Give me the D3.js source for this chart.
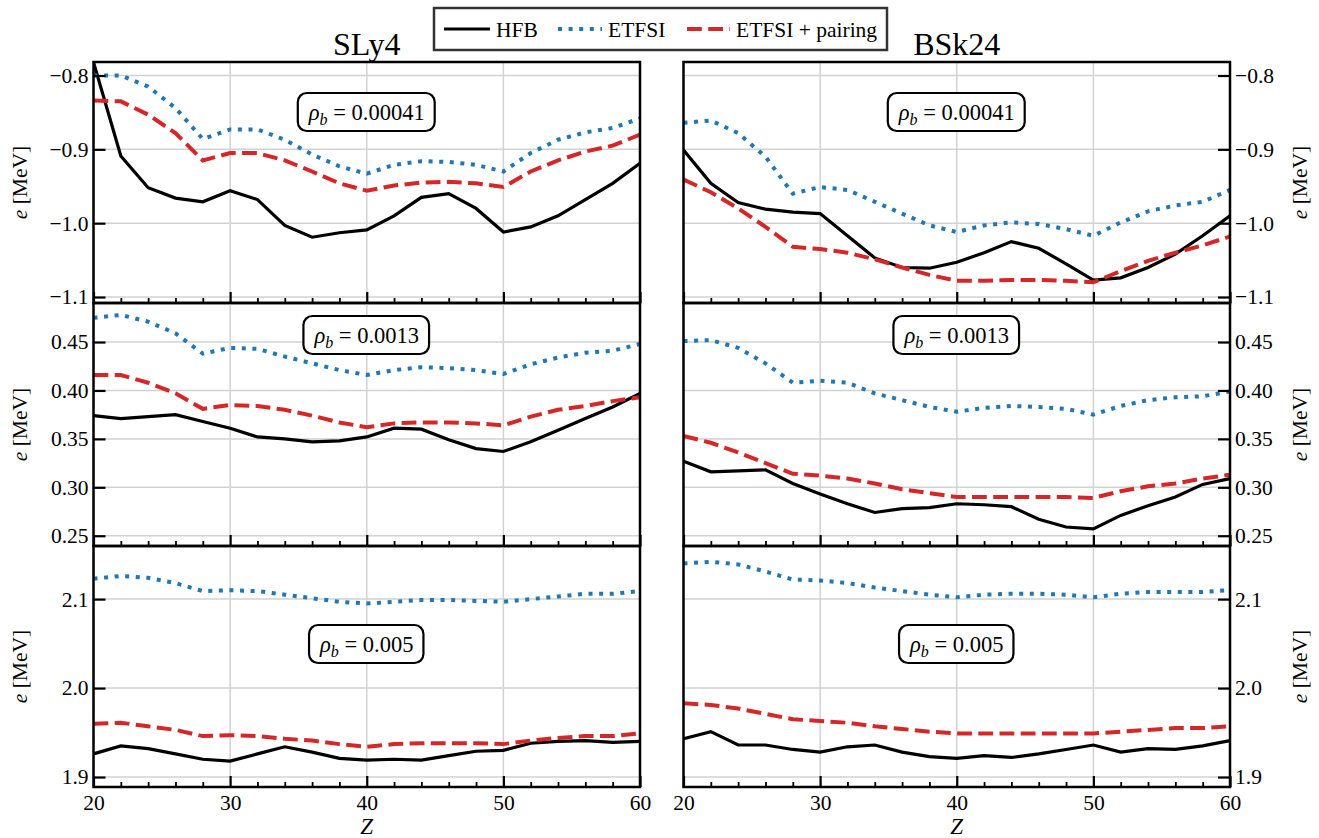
<!DOCTYPE html>
<html>
<head>
<meta charset="utf-8">
<script src="https://cdn.jsdelivr.net/npm/d3@7/dist/d3.min.js"></script>
<style>
  html, body { margin: 0; padding: 0; background: #fff; }
  svg { display: block; font-family: "Liberation Serif", "DejaVu Serif", serif; }
</style>
</head>
<body>
<svg id="chart" width="1319" height="838"></svg>
<script>
// Proton number grid
const Z = [20, 22, 24, 26, 28, 30, 32, 34, 36, 38, 40, 42, 44, 46, 48, 50, 52, 54, 56, 58, 60];

// Functionals (columns) and background densities (rows)
const functionals = ["SLy4", "BSk24"];
const densities = ["0.00041", "0.0013", "0.005"];
const seriesNames = ["HFB", "ETFSI", "ETFSI + pairing"];

// SLy4, rho_b = 0.00041
const sly4_r1_hfb   = [-0.782, -0.909, -0.952, -0.966, -0.971, -0.956, -0.968, -1.003, -1.019, -1.013, -1.009, -0.990, -0.965, -0.960, -0.980, -1.012, -1.005, -0.990, -0.968, -0.946, -0.919];
const sly4_r1_etfsi = [-0.800, -0.800, -0.815, -0.844, -0.886, -0.873, -0.873, -0.887, -0.907, -0.923, -0.933, -0.921, -0.916, -0.917, -0.921, -0.930, -0.905, -0.887, -0.877, -0.871, -0.858];
const sly4_r1_pair  = [-0.834, -0.835, -0.853, -0.878, -0.915, -0.905, -0.905, -0.915, -0.930, -0.946, -0.956, -0.949, -0.945, -0.944, -0.946, -0.951, -0.930, -0.915, -0.903, -0.895, -0.880];
// BSk24, rho_b = 0.00041
const bsk24_r1_hfb   = [-0.901, -0.946, -0.972, -0.981, -0.985, -0.987, -1.017, -1.047, -1.060, -1.061, -1.053, -1.040, -1.025, -1.034, -1.055, -1.077, -1.074, -1.060, -1.042, -1.017, -0.990];
const bsk24_r1_etfsi = [-0.864, -0.861, -0.878, -0.910, -0.960, -0.951, -0.955, -0.971, -0.987, -1.003, -1.012, -1.003, -0.999, -1.001, -1.008, -1.017, -0.999, -0.984, -0.976, -0.971, -0.955];
const bsk24_r1_pair  = [-0.941, -0.958, -0.980, -1.005, -1.032, -1.035, -1.040, -1.049, -1.060, -1.070, -1.078, -1.078, -1.077, -1.077, -1.078, -1.080, -1.065, -1.051, -1.040, -1.030, -1.018];

// SLy4, rho_b = 0.0013
const sly4_r2_hfb   = [0.374, 0.371, 0.373, 0.375, 0.368, 0.361, 0.352, 0.350, 0.347, 0.348, 0.352, 0.361, 0.360, 0.349, 0.340, 0.337, 0.347, 0.359, 0.371, 0.383, 0.397];
const sly4_r2_etfsi = [0.475, 0.478, 0.471, 0.459, 0.438, 0.444, 0.443, 0.435, 0.428, 0.421, 0.416, 0.421, 0.424, 0.423, 0.421, 0.417, 0.427, 0.434, 0.439, 0.441, 0.448];
const sly4_r2_pair  = [0.416, 0.416, 0.408, 0.397, 0.381, 0.385, 0.384, 0.380, 0.374, 0.367, 0.362, 0.366, 0.367, 0.367, 0.366, 0.364, 0.373, 0.380, 0.384, 0.389, 0.393];
// BSk24, rho_b = 0.0013
const bsk24_r2_hfb   = [0.327, 0.316, 0.317, 0.318, 0.304, 0.293, 0.283, 0.274, 0.278, 0.279, 0.283, 0.282, 0.280, 0.267, 0.259, 0.257, 0.271, 0.281, 0.290, 0.303, 0.309];
const bsk24_r2_etfsi = [0.451, 0.452, 0.444, 0.428, 0.408, 0.410, 0.408, 0.397, 0.390, 0.383, 0.378, 0.382, 0.384, 0.383, 0.381, 0.375, 0.384, 0.390, 0.393, 0.394, 0.399];
const bsk24_r2_pair  = [0.353, 0.346, 0.336, 0.325, 0.314, 0.312, 0.309, 0.304, 0.298, 0.294, 0.290, 0.290, 0.290, 0.290, 0.290, 0.289, 0.296, 0.301, 0.304, 0.309, 0.313];

// SLy4, rho_b = 0.005
const sly4_r3_hfb   = [1.926, 1.935, 1.932, 1.926, 1.920, 1.918, 1.926, 1.934, 1.928, 1.921, 1.919, 1.920, 1.919, 1.924, 1.929, 1.930, 1.938, 1.940, 1.941, 1.939, 1.940];
const sly4_r3_etfsi = [2.123, 2.126, 2.124, 2.118, 2.109, 2.110, 2.109, 2.105, 2.101, 2.097, 2.095, 2.097, 2.099, 2.099, 2.098, 2.097, 2.100, 2.103, 2.106, 2.106, 2.109];
const sly4_r3_pair  = [1.960, 1.961, 1.957, 1.953, 1.946, 1.947, 1.946, 1.943, 1.941, 1.937, 1.934, 1.937, 1.938, 1.938, 1.938, 1.937, 1.941, 1.944, 1.946, 1.946, 1.949];
// BSk24, rho_b = 0.005
const bsk24_r3_hfb   = [1.943, 1.951, 1.936, 1.936, 1.931, 1.928, 1.934, 1.936, 1.928, 1.923, 1.921, 1.924, 1.922, 1.926, 1.931, 1.936, 1.928, 1.932, 1.931, 1.935, 1.941];
const bsk24_r3_etfsi = [2.140, 2.142, 2.139, 2.131, 2.122, 2.121, 2.118, 2.113, 2.109, 2.105, 2.102, 2.105, 2.106, 2.106, 2.105, 2.102, 2.106, 2.108, 2.108, 2.108, 2.110];
const bsk24_r3_pair  = [1.983, 1.981, 1.977, 1.971, 1.965, 1.963, 1.961, 1.957, 1.954, 1.951, 1.949, 1.949, 1.949, 1.949, 1.949, 1.949, 1.951, 1.953, 1.955, 1.955, 1.957];

// Axis ticks
const xTicks = [20, 30, 40, 50, 60];
const xMinorTicks = [22, 24, 26, 28, 32, 34, 36, 38, 42, 44, 46, 48, 52, 54, 56, 58];
const yTicksRow1 = [-1.1, -1.0, -0.9, -0.8];
const yTicksRow2 = [0.25, 0.30, 0.35, 0.40, 0.45];
const yTicksRow3 = [1.9, 2.0, 2.1];
const yDigits = [1, 2, 1];
const yLimits = [[-1.1081, -0.7817], [0.2394, 0.4903], [1.8888, 2.1597]];

// Panel table assembled from the arrays above
const panelData = [
  [[sly4_r1_hfb, sly4_r1_etfsi, sly4_r1_pair], [bsk24_r1_hfb, bsk24_r1_etfsi, bsk24_r1_pair]],
  [[sly4_r2_hfb, sly4_r2_etfsi, sly4_r2_pair], [bsk24_r2_hfb, bsk24_r2_etfsi, bsk24_r2_pair]],
  [[sly4_r3_hfb, sly4_r3_etfsi, sly4_r3_pair], [bsk24_r3_hfb, bsk24_r3_etfsi, bsk24_r3_pair]]
];
const yTickSets = [yTicksRow1, yTicksRow2, yTicksRow3];

// Layout
const colX = [[93.5, 640], [683.5, 1230]];
const rowY = [[62, 303], [303, 546], [546, 787]];
const annotY = [112, 335, 644];

// Styles
const styles = [
  { color: "#000000", width: 3.2, dash: null },
  { color: "#1f77b4", width: 4, dash: "4,6.6" },
  { color: "#d62728", width: 4, dash: "14.8,6.4" }
];
const gridColor = "#d2d2d2";
const fontFamily = '"Liberation Serif", "DejaVu Serif", serif';
const tickFont = 21.5;

const svg = d3.select("#chart");
const defs = svg.append("defs");

function drawPanel(r, c) {
  const [x0, x1] = colX[c];
  const [y0, y1] = rowY[r];
  const x = d3.scaleLinear().domain([20, 60]).range([x0, x1]);
  const y = d3.scaleLinear().domain(yLimits[r]).range([y1, y0]);
  const g = svg.append("g");
  const clipId = `clip-${r}-${c}`;
  defs.append("clipPath").attr("id", clipId)
    .append("rect").attr("x", x0).attr("y", y0).attr("width", x1 - x0).attr("height", y1 - y0);

  // Grid
  const grid = g.append("g");
  grid.selectAll("line.gx").data(xTicks).join("line")
    .attr("x1", d => x(d)).attr("x2", d => x(d)).attr("y1", y0).attr("y2", y1)
    .attr("stroke", gridColor).attr("stroke-width", 1.5);
  grid.selectAll("line.gy").data(yTickSets[r]).join("line")
    .attr("x1", x0).attr("x2", x1).attr("y1", d => y(d)).attr("y2", d => y(d))
    .attr("stroke", gridColor).attr("stroke-width", 1.5);

  // Curves
  const line = d3.line().x((d, i) => x(Z[i])).y(d => y(d));
  const curves = g.append("g").attr("clip-path", `url(#${clipId})`);
  panelData[r][c].forEach((vals, k) => {
    curves.append("path").datum(vals)
      .attr("d", line)
      .attr("fill", "none")
      .attr("stroke", styles[k].color)
      .attr("stroke-width", styles[k].width)
      .attr("stroke-linejoin", "miter")
      .attr("stroke-dasharray", styles[k].dash);
  });

  // Bottom x ticks, pointing inward
  const xAxis = d3.axisBottom(x).tickValues(xTicks).tickSizeInner(-11).tickSizeOuter(0)
    .tickPadding(8).tickFormat(d => (r === 2 ? d : ""));
  const xa = g.append("g").attr("transform", `translate(0,${y1})`).call(xAxis);
  xa.select(".domain").remove();
  xa.selectAll(".tick line").attr("stroke", "#000").attr("stroke-width", 2.2);
  xa.selectAll(".tick text").attr("font-size", tickFont).attr("font-family", fontFamily).attr("fill", "#000");
  const xMinor = d3.axisBottom(x).tickValues(xMinorTicks).tickSizeInner(-5).tickSizeOuter(0).tickFormat("");
  const xm = g.append("g").attr("transform", `translate(0,${y1})`).call(xMinor);
  xm.select(".domain").remove();
  xm.selectAll(".tick line").attr("stroke", "#000").attr("stroke-width", 1.8);

  // Y ticks: left column on the left, right column on the right
  const labels = v => (v < 0 ? "\u2212" : "") + Math.abs(v).toFixed(yDigits[r]);
  const yAxis = (c === 0 ? d3.axisLeft(y) : d3.axisRight(y))
    .tickValues(yTickSets[r]).tickSizeInner(-12).tickSizeOuter(0).tickPadding(5).tickFormat(labels);
  const ya = g.append("g").attr("transform", `translate(${c === 0 ? x0 : x1},0)`).call(yAxis);
  ya.select(".domain").remove();
  ya.selectAll(".tick line").attr("stroke", "#000").attr("stroke-width", 2.2);
  ya.selectAll(".tick text").attr("font-size", tickFont).attr("font-family", fontFamily).attr("fill", "#000");

  // Frame
  g.append("rect").attr("x", x0).attr("y", y0).attr("width", x1 - x0).attr("height", y1 - y0)
    .attr("fill", "none").attr("stroke", "#000").attr("stroke-width", 2.5);

  // Density annotation box
  const cx = (x0 + x1) / 2;
  const cy = annotY[r];
  const ann = g.append("g");
  const t = ann.append("text").attr("x", cx).attr("y", cy + 7.5)
    .attr("text-anchor", "middle").attr("font-size", 22.5).attr("font-family", fontFamily).attr("fill", "#000");
  t.append("tspan").attr("font-style", "italic").text("\u03c1");
  t.append("tspan").attr("font-style", "italic").attr("font-size", 16).attr("dy", 5).text("b");
  t.append("tspan").attr("dy", -5).text(" = " + densities[r]);
  const bb = t.node().getBBox();
  ann.insert("rect", "text")
    .attr("x", bb.x - 10).attr("y", cy - 19).attr("width", bb.width + 20).attr("height", 38)
    .attr("rx", 9).attr("ry", 9)
    .attr("fill", "#fff").attr("stroke", "#000").attr("stroke-width", 2.2);

  // Axis titles
  const ylx = c === 0 ? 22 : 1302;
  const ylt = svg.append("text")
    .attr("transform", `translate(${ylx},${(y0 + y1) / 2}) rotate(-90)`)
    .attr("text-anchor", "middle").attr("dominant-baseline", "middle")
    .attr("font-size", 21.5).attr("font-family", fontFamily).attr("fill", "#000");
  ylt.append("tspan").attr("font-style", "italic").text("e");
  ylt.append("tspan").text(" [MeV]");

  if (r === 2) {
    svg.append("text").attr("x", cx).attr("y", 834)
      .attr("text-anchor", "middle").attr("font-size", 23).attr("font-style", "italic")
      .attr("font-family", fontFamily).attr("fill", "#000").text("Z");
  }
  if (r === 0) {
    svg.append("text").attr("x", cx).attr("y", 55)
      .attr("text-anchor", "middle").attr("font-size", 32)
      .attr("font-family", fontFamily).attr("fill", "#000").text(functionals[c]);
  }
}

for (let r = 0; r < 3; r++) for (let c = 0; c < 2; c++) drawPanel(r, c);

// Legend
const leg = svg.append("g");
leg.append("rect").attr("x", 434).attr("y", 8).attr("width", 453).attr("height", 42)
  .attr("fill", "#fff").attr("stroke", "#333").attr("stroke-width", 2.5);
const legX = [[444, 490, 496], [558, 602, 608], [687, 730, 736]];
seriesNames.forEach((name, k) => {
  leg.append("line").attr("x1", legX[k][0]).attr("x2", legX[k][1]).attr("y1", 29).attr("y2", 29)
    .attr("stroke", styles[k].color).attr("stroke-width", styles[k].width)
    .attr("stroke-dasharray", styles[k].dash);
  leg.append("text").attr("x", legX[k][2]).attr("y", 36.5)
    .attr("font-size", 21.5).attr("font-family", fontFamily).attr("fill", "#000").text(name);
});
</script>
</body>
</html>
